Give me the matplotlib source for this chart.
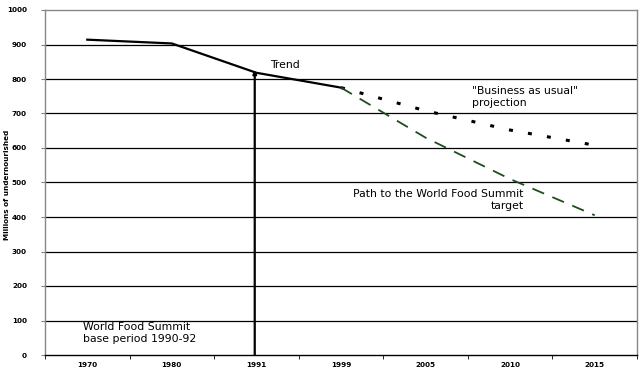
import matplotlib
matplotlib.use("Agg")
import matplotlib.pyplot as plt
import numpy as np

years = ["1970", "1980", "1991", "1999", "2005", "2010", "2015"]
trend = [914, 903, 818, 775]            # 1970-1999
bau = [775, 708, 652, 608]              # 1999-2015 "business as usual"
wfs_path = [775, 630, 510, 405]         # 1999-2015 path to WFS target
base_year_value = 826                   # height of 1991 marker
yticks = list(range(0, 1001, 100))

fig = plt.figure(figsize=(6.41, 3.73), dpi=100)
ax = fig.add_axes([45/641, 18/373, 592/641, 345/373])

x = np.arange(len(years))
ax.set_xlim(-0.5, len(years) - 0.5)
ax.set_ylim(0, 1000)

for v in yticks[1:-1]:
    ax.axhline(v, color="black", lw=0.9, zorder=1)

ax.plot(x[:4], trend, color="black", lw=1.6, zorder=3)
ax.plot(x[3:], bau, color="black", lw=2.2, linestyle=(0, (1.3, 5)), zorder=3)
ax.plot(x[3:], wfs_path, color="#1e4d1e", lw=1.3, linestyle=(0, (7, 5)), zorder=3)

ax.annotate("", xy=(x[2] - 0.02, base_year_value), xytext=(x[2] - 0.02, 0),
            arrowprops=dict(arrowstyle="-|>", color="black", lw=1.6,
                            mutation_scale=5, shrinkA=0, shrinkB=0), zorder=4)

fs = 7.8
ax.text(2.16, 840, "Trend", fontsize=fs, va="center", ha="left")
ax.text(4.55, 747, '"Business as usual"\nprojection', fontsize=fs, va="center",
        ha="left", linespacing=1.25)
ax.text(5.16, 449, "Path to the World Food Summit\ntarget", fontsize=fs, va="center",
        ha="right", multialignment="right", linespacing=1.25)
ax.text(-0.05, 64, "World Food Summit\nbase period 1990-92", fontsize=fs, va="center",
        ha="left", linespacing=1.25)

ax.set_xticks(x)
ax.set_xticklabels(years, fontsize=5.2, fontweight="bold")
ax.set_xticks(np.arange(-0.5, len(years)), minor=True)
ax.tick_params(axis="x", which="major", length=0, pad=5)
ax.tick_params(axis="x", which="minor", length=3, direction="out", color="black")
ax.set_yticks(yticks)
ax.set_yticklabels([str(v) for v in yticks], fontsize=5.2, fontweight="bold")
ax.tick_params(axis="y", length=3, direction="out", pad=10, color="gray")

for s in ["top", "right", "left"]:
    ax.spines[s].set_color("#888888")
    ax.spines[s].set_linewidth(1)
ax.spines["bottom"].set_color("black")
ax.spines["bottom"].set_linewidth(1)

fig.text(7/641, 1 - 185/373, "Millions of undernourished", rotation=90,
         fontsize=5.2, fontweight="bold", va="center", ha="center")

fig.savefig("out.png", dpi=100)
